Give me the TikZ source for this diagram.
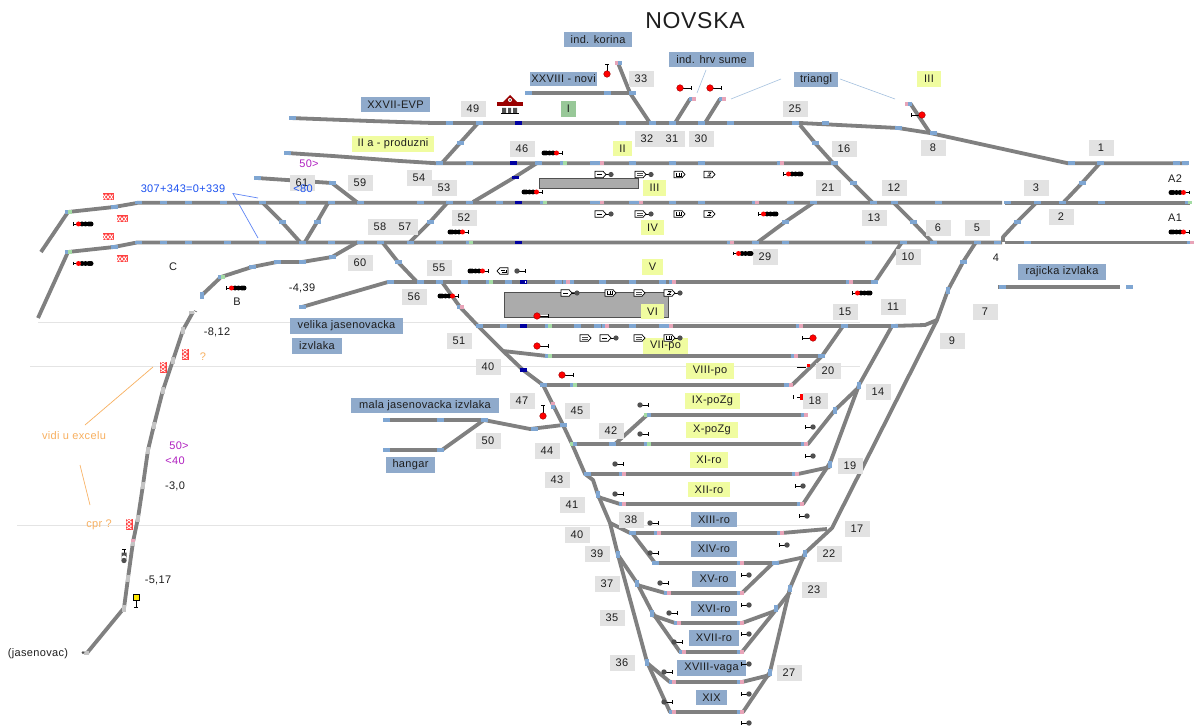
\documentclass[tikz,border=0pt]{standalone}
\usepackage{fontspec}
\setmainfont[LetterSpace=3]{Liberation Sans}
\definecolor{trk}{HTML}{808080}
\definecolor{jb}{HTML}{7FA6D2}
\definecolor{jp}{HTML}{E8A4B8}
\definecolor{jg}{HTML}{A4DCA4}
\definecolor{jd}{HTML}{0000A0}
\definecolor{jl}{HTML}{C4C4C4}
\definecolor{lbl}{HTML}{8FAACB}
\definecolor{yel}{HTML}{F0FCA0}
\definecolor{grnb}{HTML}{98C898}
\definecolor{numg}{HTML}{E2E2E2}
\definecolor{txt}{HTML}{1E1E1E}
\definecolor{org}{HTML}{F8B060}
\definecolor{purp}{HTML}{B020C0}
\definecolor{blu}{HTML}{1A50F0}
\definecolor{sigg}{HTML}{505050}
\definecolor{boxg}{HTML}{ABABAB}
\definecolor{lightl}{HTML}{E4E4E4}
\newcommand\jpair[4]{\fill[#3] (#1-3.5,#2-1.8) rectangle (#1-0.2,#2+1.8);\fill[#4] (#1+0.2,#2-1.8) rectangle (#1+3.5,#2+1.8);}
\newcommand\jvert[4]{\fill[#3] (#1-1.8,#2-3.5) rectangle (#1+1.8,#2-0.2);\fill[#4] (#1-1.8,#2+0.2) rectangle (#1+1.8,#2+3.5);}
\newcommand\jbb[2]{\jpair{#1}{#2}{jb}{jb}}
\newcommand\jbp[2]{\jpair{#1}{#2}{jb}{jp}}
\newcommand\jpb[2]{\jpair{#1}{#2}{jp}{jb}}
\newcommand\jbg[2]{\jpair{#1}{#2}{jb}{jg}}
\newcommand\jgb[2]{\jpair{#1}{#2}{jg}{jb}}
\newcommand\jdd[2]{\jpair{#1}{#2}{jd}{jd}}
\newcommand\jvv[2]{\jvert{#1}{#2}{jb}{jb}}
\newcommand\jll[2]{\fill[jl] (#1-2,#2-3.5) rectangle (#1+2,#2+3.5);}
\newcommand\sigL[2]{\draw[line width=.7pt] (#1,#2-1.8) -- (#1,#2+1.8) (#1,#2) -- (#1+5,#2);
  \foreach \d in {9,12.5,16,18}{\fill[black] (#1+\d,#2) circle (2.5);}
  \fill[red] (#1+5.5,#2) circle (2.5);}
\newcommand\sigR[2]{\draw[line width=.7pt] (#1,#2-1.8) -- (#1,#2+1.8) (#1,#2) -- (#1-5,#2);
  \foreach \d in {9,12.5,16,18}{\fill[black] (#1-\d,#2) circle (2.5);}
  \fill[red] (#1-5.5,#2) circle (2.5);}
\newcommand\stemh[3]{\draw[line width=.7pt] (#1,#2) -- (#1+#3,#2);\draw[line width=.7pt] (#1+#3,#2-1.8) -- (#1+#3,#2+1.8);}
\newcommand\stemv[3]{\draw[line width=.7pt] (#1,#2) -- (#1,#2+#3);\draw[line width=.7pt] (#1-1.8,#2+#3) -- (#1+1.8,#2+#3);}
\newcommand\rdot[2]{\filldraw[fill=red,draw=red!60!black,line width=.4pt] (#1,#2) circle (3.3);}
\newcommand\rsig[3]{\stemh{#1}{#2}{#3}\rdot{#1}{#2}}
\newcommand\rsigv[3]{\stemv{#1}{#2}{#3}\rdot{#1}{#2}}
\newcommand\gsig[3]{\stemh{#1}{#2}{#3}\fill[sigg] (#1,#2) circle (2.7);}
\newcommand\flagbase[2]{\draw[line width=.7pt,fill=white] (#1,#2-3.3) -- (#1+8,#2-3.3) -- (#1+11,#2) -- (#1+8,#2+3.3) -- (#1,#2+3.3) -- cycle;}
\newcommand\flaga[2]{\flagbase{#1}{#2}\draw[line width=.7pt] (#1+2,#2) -- (#1+7,#2);}
\newcommand\flagb[2]{\flagbase{#1}{#2}\draw[line width=.6pt,sigg] (#1+2,#2-1) -- (#1+8,#2-1) (#1+2,#2+1) -- (#1+8,#2+1);}
\newcommand\flagc[2]{\flagbase{#1}{#2}\draw[line width=.6pt] (#1+2.5,#2-1.8) -- (#1+2.5,#2+1.5) -- (#1+7,#2+1.5) -- (#1+7,#2-1.8) (#1+4.8,#2-1.8) -- (#1+4.8,#2+1.5);}
\newcommand\flagd[2]{\flagbase{#1}{#2}\draw[line width=.6pt] (#1+3,#2+1.5) -- (#1+7,#2+1.5) (#1+4,#2-1.5) -- (#1+7,#2-1.5) -- (#1+4.5,#2+1.5);}
\newcommand\flagn[2]{\draw[line width=.7pt] (#1+11,#2) -- (#1+15,#2);\fill[sigg] (#1+16,#2) circle (2.6);}
\newcommand\rx[2]{\fill[red!75!white] (#1-5.5,#2-3.5) rectangle (#1+5.5,#2+3.5);
  \draw[white,line width=.7pt] (#1-5,#2-2.5) -- (#1-2,#2+2.5) -- (#1+2,#2-2.5) -- (#1+5,#2+2.5) (#1-5,#2+2.5) -- (#1-2,#2-2.5) -- (#1+2,#2+2.5) -- (#1+5,#2-2.5);}
\newcommand\ry[2]{\fill[red!75!white] (#1-3.5,#2-5.5) rectangle (#1+3.5,#2+5.5);
  \draw[white,line width=.7pt] (#1-2.5,#2-5) -- (#1+2.5,#2-2) -- (#1-2.5,#2+2) -- (#1+2.5,#2+5) (#1+2.5,#2-5) -- (#1-2.5,#2-2) -- (#1+2.5,#2+2) -- (#1-2.5,#2+5);}
\newcommand\lab[7][blubox]{\node[#1,minimum width={(#5-#3)*1pt},minimum height={(#6-#4)*1pt}] (#2) at ({(#3+#5)/2},{(#4+#6)/2}) {#7};}
\newcommand\nb[3]{\node[numbox] (n#1-#2) at (#2,#3) {#1};}
\tikzset{
 tk/.style={draw=trk,line width=3.8pt,line join=round},
 anybox/.style={inner sep=0pt,outer sep=0pt,font=\fontsize{11}{12}\selectfont,text=txt},
 blubox/.style={anybox,fill=lbl},
 yelbox/.style={anybox,fill=yel},
 grnbox/.style={anybox,fill=grnb},
 numbox/.style={anybox,fill=numg,minimum width=25pt,minimum height=16pt},
 plain/.style={inner sep=0pt,font=\fontsize{11}{12}\selectfont,text=txt},
}
\begin{document}
\begin{tikzpicture}[x=1pt,y=-1pt]
\useasboundingbox (0,0) rectangle (1196,727);
\fill[white] (0,0) rectangle (1196,727);
% reference lines
\draw[lightl,line width=.8pt] (38,322) -- (860,322) (30,366.5) -- (860,366.5) (17,525) -- (830,525);
\draw[jb!70!white,line width=.6pt] (706,70) -- (697,93) (781,79) -- (731,99) (840,79) -- (895,99);
\draw[blu!70!white,line width=.7pt] (258,198) -- (233,193.5) -- (258,238);
\draw[org,line width=.7pt] (153,367) -- (85,425) (80,465) -- (90,505);
% grey boxes
\filldraw[fill=boxg,draw=sigg,line width=.8pt] (539,178) rectangle (638,188);
\filldraw[fill=boxg,draw=sigg,line width=.9pt] (504,292) rectangle (668,317);
% tracks
\draw[tk] (41,252) -- (68,212) -- (114,207) -- (137,203) -- (137,202.7) -- (1002,202.7);
\draw[tk] (1004.5,202.7) -- (1190,202.7);
\draw[tk] (38,318) -- (68,252) -- (114,247) -- (137,242.5) -- (1002,242.5);
\draw[tk] (1004.5,242.5) -- (1190,242.5);
\draw[tk] (290,118) -- (370,121) -- (400,122) -- (433,123) -- (800,123) -- (898,128) -- (930,133) -- (1068,163.3) -- (1188,163.3);
\draw[tk] (910,103) -- (930,133);
\draw[tk] (287,153) -- (333,156) -- (400,161) -- (437,163.3) -- (833,163.3);
\draw[tk] (528,93) -- (630,93);
\draw[tk] (618,63) -- (630,93) -- (650,123);
\draw[tk] (675,123) -- (690,99);
\draw[tk] (705,123) -- (720,99);
\draw[tk] (478,123) -- (460,143) -- (442,163);
\draw[tk] (410,242) -- (430,222) -- (448,202);
\draw[tk] (537,163) -- (515,177) -- (473,202);
\draw[tk] (758,242) -- (785,222) -- (813,203);
\draw[tk] (800,125) -- (815,143) -- (833,163) -- (853,183) -- (873,203);
\draw[tk] (894,203) -- (913,222) -- (932,242);
\draw[tk] (1036,203) -- (1017,222) -- (1003,237) -- (1003,242);
\draw[tk] (1100,163) -- (1082,183) -- (1063,203);
\draw[tk] (902,242) -- (875,282) -- (388,282) -- (302,307);
\draw[tk] (976,242) -- (963,262) -- (948,290) -- (937,320) -- (832,528) -- (805,553) -- (790,588) -- (770,672) -- (743,712) -- (670,712) -- (647,662) -- (618,555) -- (610,523) -- (598,495) -- (593,480) -- (585,474) -- (572,444) -- (563,425) -- (553,405) -- (543,385) -- (523,370) -- (503,351) -- (478,326) -- (460,307) -- (442,282);
\draw[tk] (257,178) -- (332,183) -- (358,203);
\draw[tk] (263,203) -- (282,222) -- (300,242);
\draw[tk] (328,203) -- (317,222) -- (305,242);
\draw[tk] (358,242) -- (332,257) -- (302,262) -- (277,262) -- (252,267) -- (221,277) -- (202,295);
\draw[tk] (383,243) -- (398,262) -- (417,282);
\draw[tk] (478,326) -- (892,326) -- (925,325) -- (937,320);
\draw[tk] (503,351) -- (547,356) -- (822,356) -- (843,326);
\draw[tk] (543,385) -- (792,385) -- (822,356);
\draw[tk] (647,415) -- (808,415);
\draw[tk] (615,444) -- (647,415);
\draw[tk] (572,444) -- (808,444) -- (835,410) -- (858,388);
\draw[tk] (892,326) -- (859,385) -- (830,463) -- (803,504) -- (620,504) -- (598,497);
\draw[tk] (585,474) -- (798,474) -- (830,467);
\draw[tk] (610,523) -- (630,533) -- (782,533) -- (827,529);
\draw[tk] (632,533) -- (655,563) -- (777,563) -- (805,557);
\draw[tk] (618,555) -- (637,583) -- (652,612) -- (680,652) -- (742,652) -- (775,611) -- (790,592);
\draw[tk] (637,585) -- (665,593) -- (742,593) -- (773,563);
\draw[tk] (652,615) -- (675,623) -- (742,623) -- (775,611);
\draw[tk] (647,663) -- (670,682) -- (742,682) -- (770,675);
\draw[tk] (998,287) -- (1120,287);
\draw[tk] (383,420) -- (484,420) -- (530,429) -- (563,425);
\draw[tk] (383,450) -- (442,450) -- (484,420);
\draw[tk] (193,312) -- (183,330) -- (173,360) -- (163,390) -- (154,425) -- (148,450) -- (143,485) -- (138,518) -- (133,542) -- (128,578) -- (124,608) -- (87,653);
% joints
\foreach \x in {138,163,188,223,262,302,331,360,420,449,469,499,593,632,672,701,790,813,873,894,938,1007,1037,1062,1101} {\jbb{\x}{202.7}}
\foreach \x in {138,163,188,227,262,302,331,360,380,410,439,755,785,868,903,933,977,997,1027} {\jbb{\x}{242.5}}
\foreach \x in {449,479,622,652,672,701,730,795,825} {\jbb{\x}{123}}
\foreach \x in {439,469,538,593,632,672,701,834,1071,1100} {\jbb{\x}{163.3}}
\foreach \x in {420,439,464,508,558,570,602,632,662,874,390} {\jbb{\x}{282}}
\foreach \x in {479,503,577,597,632,662,844,894} {\jbb{\x}{326}}
\foreach \x/\y in {543/385,787/385,821/356,612/444,587/474,632/533,1002/287,1129/287,386/420,440/420,484/420,534/429,386/450,440/450,528/93,607/93,632/93,292/118,287/153,257/178,332/183,114/207,114/247,282/222,317/222,460/143,430/222,785/222,815/143,853/183,913/222,1017/222,1082/183,963/262,332/257,302/262,277/262,252/267,302/307,775/563,1176/163.3,898/128,933/133,563/425,398/262,655/563,1185/163.3} {\jbb{\x}{\y}}
\jbg{1188}{202.7}
\jdd{518}{123}\jdd{513}{163.3}\jdd{518}{202.7}\jdd{518}{242.5}\jdd{523}{282}\fill[white] (524.5,281) rectangle (525.7,283);\jdd{523}{326}\jdd{523}{370}\jdd{515}{177.5}
% pink-blue / green
\foreach \x/\y in {600/163.3,639/202.7,600/202.7,780/163.3,755/202.7,730/242.5,849/282,566/282,672/282,605/326,669/326,799/326,794/356,789/385,804/415,804/444,622/474,795/474,622/504,800/504,657/533,780/533,740/563,667/593,740/593,677/623,740/623,682/652,740/652,672/682,740/682,672/712,740/712,460/307,1190/242.5,692/99,722/99} {\jbp{\x}{\y}}
\jpb{908}{104}\jpb{618}{63}
\foreach \x/\y in {563/163.3,543/202.7,469/242.5,489/282,548/326,548/356,573/385,647/444,68/212,68/252,221/277} {\jbg{\x}{\y}}
\foreach \x/\y in {647/415,573/444} {\jgb{\x}{\y}}
\foreach \x/\y in {618/554,637/583,652/613,647/662,598/494,805/553,790/588,776/608,770/672,859/385,835/410,830/464,948/290,202/295} {\jvv{\x}{\y}}
\jvert{553}{405}{jp}{jb}
\foreach \x/\y in {183/330,173/360,163/390,154/425,148/450,143/485,138/518,128/578,124/608} {\jll{\x}{\y}}
\fill[jp] (131,538.5) rectangle (135,542);\fill[jl] (131,542) rectangle (135,545.5);
\fill[jl] (84,651) rectangle (89,655);\fill[sigg] (83,652.5) circle (1.5);
\fill[jl] (189,311) rectangle (194,314);\draw[sigg,line width=.5pt] (194,310.5) -- (197,312);
% labels
\lab{lkorina}{564}{32}{632}{47}{ind. korina}
\lab{lnovi}{530}{72}{597}{86}{XXVIII - novi}
\lab{lhrv}{669}{52}{754}{67}{ind. hrv sume}
\lab{ltri}{794}{72}{838}{87}{triangl}
\lab{levp}{361}{97}{430}{112}{XXVII-EVP}
\lab{lraj}{1018}{264}{1106}{280}{rajicka izvlaka}
\lab{lvel}{290}{318}{403}{334}{velika jasenovacka}
\lab{lizv}{292}{338}{342}{354}{izvlaka}
\lab{lmala}{351}{398}{499}{413}{mala jasenovacka izvlaka}
\lab{lhangar}{386}{457}{435}{473}{hangar}
\lab{lxiii}{691}{512}{737}{527}{XIII-ro}
\lab{lxiv}{691}{541}{737}{557}{XIV-ro}
\lab{lxv}{692}{571}{736}{587}{XV-ro}
\lab{lxvi}{691}{601}{737}{616}{XVI-ro}
\lab{lxvii}{689}{630}{739}{646}{XVII-ro}
\lab{lxviii}{677}{660}{746}{676}{XVIII-vaga}
\lab{lxix}{696}{690}{727}{705}{XIX}
\lab[grnbox]{li}{561}{101}{576}{117}{I}
\lab[yelbox]{liiitop}{917}{71}{941}{87}{III}
\lab[yelbox]{liia}{352}{136}{434}{152}{II a - produzni}
\lab[yelbox]{lii}{613}{141}{632}{156}{II}
\lab[yelbox]{liii}{643}{180}{666}{196}{III}
\lab[yelbox]{liv}{641}{220}{664}{235}{IV}
\lab[yelbox]{lv}{642}{259}{663}{275}{V}
\lab[yelbox]{lvi}{641}{304}{664}{319}{VI}
\lab[yelbox]{lvii}{643}{338}{688}{354}{VII-po}
\lab[yelbox]{lviii}{686}{363}{734}{379}{VIII-po}
\lab[yelbox]{lix}{685}{393}{740}{409}{IX-poZg}
\lab[yelbox]{lx}{686}{422}{738}{438}{X-poZg}
\lab[yelbox]{lxi}{690}{452}{728}{468}{XI-ro}
\lab[yelbox]{lxii}{688}{482}{730}{497}{XII-ro}
\nb{33}{641}{79}\nb{49}{473}{109}\nb{46}{522}{149}\nb{32}{647}{139}\nb{31}{672}{139}\nb{30}{701}{139}
\nb{25}{795}{109}\nb{16}{844}{149}\nb{8}{933}{148}\nb{1}{1101}{148}\nb{54}{419}{178}\nb{53}{444}{188}
\nb{61}{302}{183}\nb{59}{360}{183}\nb{21}{828}{188}\nb{12}{894}{188}\nb{3}{1036}{188}\nb{13}{874}{218}
\nb{2}{1061}{217}\nb{52}{464}{218}\nb{6}{938}{228}\nb{5}{977}{228}\nb{58}{380}{227}\nb{57}{405}{227}
\nb{60}{360}{263}\nb{10}{908}{257}\nb{29}{765}{257}\nb{55}{439}{268}\nb{56}{414}{297}\nb{11}{893}{307}
\nb{7}{985}{312}\nb{9}{952}{341}\nb{15}{845}{312}\nb{51}{459}{341}\nb{40}{488}{367}\nb{20}{828}{371}
\nb{47}{522}{401}\nb{45}{577}{411}\nb{18}{815}{401}\nb{14}{878}{392}\nb{42}{611}{431}\nb{50}{488}{441}
\nb{44}{547}{451}\nb{19}{850}{466}\nb{43}{557}{480}\nb{41}{572}{505}\nb{38}{631}{520}\nb{17}{857}{529}
\nb{40}{577}{535}\nb{39}{597}{554}\nb{22}{829}{554}\nb{37}{607}{584}\nb{23}{814}{590}\nb{35}{612}{618}
\nb{36}{622}{663}\nb{27}{789}{673}
% plain texts
\node[plain,font=\fontsize{23}{24}\selectfont] (title) at (695,21) {NOVSKA};
\node[plain] (t4) at (996,258) {4};
\node[plain] (ta2) at (1175,179) {A2};
\node[plain] (ta1) at (1175,218) {A1};
\node[plain] (tc) at (173,267) {C};
\node[plain] (tb) at (237,302) {B};
\node[plain] (t439) at (302,288) {-4,39};
\node[plain] (t812) at (217,332) {-8,12};
\node[plain] (t30) at (175,486) {-3,0};
\node[plain] (t517) at (158,580) {-5,17};
\node[plain] (tjas) at (38,654) {(jasenovac)};
\node[plain,text=blu] (tkm) at (183,189) {307+343=0+339};
\node[plain,text=blu] (t80) at (303,189) {<80};
\node[plain,text=purp] (t50a) at (309,164) {50>};
\node[plain,text=purp] (t50b) at (179,446) {50>};
\node[plain,text=purp] (t40) at (175,461) {<40};
\node[plain,text=org] (tq) at (203,357) {?};
\node[plain,text=org] (tvidi) at (74,436) {vidi u excelu};
\node[plain,text=org] (tcpr) at (99,525) {cpr ?};
% signals with dots
\sigL{73}{224}\sigL{73}{263.5}\sigL{226}{288}\sigL{783}{174}\sigL{758}{214}\sigL{733}{253.5}\sigL{852}{293}
\sigR{562}{153}\sigR{542}{192}\sigR{468}{232}\sigR{488}{271}\sigR{458}{296}\sigR{1189}{192.5}\sigR{1189}{232}
% red signals
\rsigv{607}{74}{-10}\rsig{680}{88}{11}\rsig{710}{88}{11}\rsig{922}{115}{-11}
\rsig{562}{375}{11}\rsig{537}{346}{11}\rsig{813}{338}{-11}\rsigv{543}{416}{-11}
\fill[white] (538,314.5) rectangle (548,317);\rsig{537}{316}{11}
\draw[line width=.7pt] (797,367) -- (806,367) (797,397) -- (802,397) (793,395) -- (793,399);
\fill[red] (800,394) rectangle (803,400);
\fill[red] (807,364) rectangle (810,367);
% grey signals
\gsig{640}{405}{8}\gsig{640}{434}{8}\gsig{615}{464}{8}\gsig{615}{494}{8}\gsig{517}{271}{8}
\gsig{650}{523}{8}\gsig{650}{553}{8}\gsig{660}{583}{8}\gsig{669}{613}{8}\gsig{674}{642}{8}\gsig{664}{672}{8}\gsig{664}{702}{8}
\gsig{813}{427}{-8}\gsig{813}{456}{-8}\gsig{803}{486}{-8}\gsig{807}{516}{-8}\gsig{787}{545}{-8}
\gsig{749}{575}{-8}\gsig{749}{605}{-8}\gsig{749}{634}{-8}\gsig{749}{664}{-8}\gsig{749}{694}{-8}\gsig{749}{723}{-8}
% flags
\flaga{595}{174.5}\flagn{595}{174.5}\flagb{635}{174.5}\flagn{635}{174.5}\flagc{674}{174.5}\flagd{704}{174.5}
\flaga{595}{214}\flagn{595}{214}\flagb{635}{214}\flagn{635}{214}\flagc{674}{214}\flagd{704}{214}
\flaga{561}{293}\flagn{561}{293}\flagc{605}{293}\flagb{634}{293}\flagd{664}{293}\flagn{664}{293}
\flagb{580}{338}\flaga{600}{338}\flagn{600}{338}\flagb{634}{338}\flagc{664}{338}\flagn{664}{338}
\draw[line width=.7pt,fill=white] (508,267.7) -- (500,267.7) -- (497,271) -- (500,274.3) -- (508,274.3) -- cycle;
\draw[line width=.6pt] (502,272.5) -- (506,272.5) -- (506,270) (501,270) -- (505,270);
% level crossing marks
\rx{108}{197}\rx{122}{219}\rx{108}{237}\rx{122}{259}
\ry{163}{367}\ry{185}{354}\ry{129}{524}
% dark vertical signal and yellow square
\draw[line width=.7pt] (122.2,549.5) -- (125.8,549.5) (124,549.5) -- (124,555);
\fill[sigg] (124,558) circle (2.7) (121.5,552.5) rectangle (126.5,559) (124,560.5) circle (2.7);
\draw[line width=.7pt] (136,600) -- (136,607) (134,607) -- (138,607);
\filldraw[fill=yellow!90!orange,draw=black,line width=.7pt] (133,594) rectangle (139,600);
% station
\fill[white] (501,106) rectangle (519,114);
\fill[red!60!black] (497,102) rectangle (523,106.5);
\fill[red!60!black] (503,102) -- (510,95) -- (517,102) -- cycle;
\fill[white] (510,100) circle (2);\fill[sigg] (510,100) circle (1);
\draw[black,line width=.8pt] (501,113.7) -- (519,113.7);
\fill[sigg] (502,108) rectangle (506,113) (513,108) rectangle (517,113) (508,108) rectangle (511,113);
\end{tikzpicture}
\end{document}
